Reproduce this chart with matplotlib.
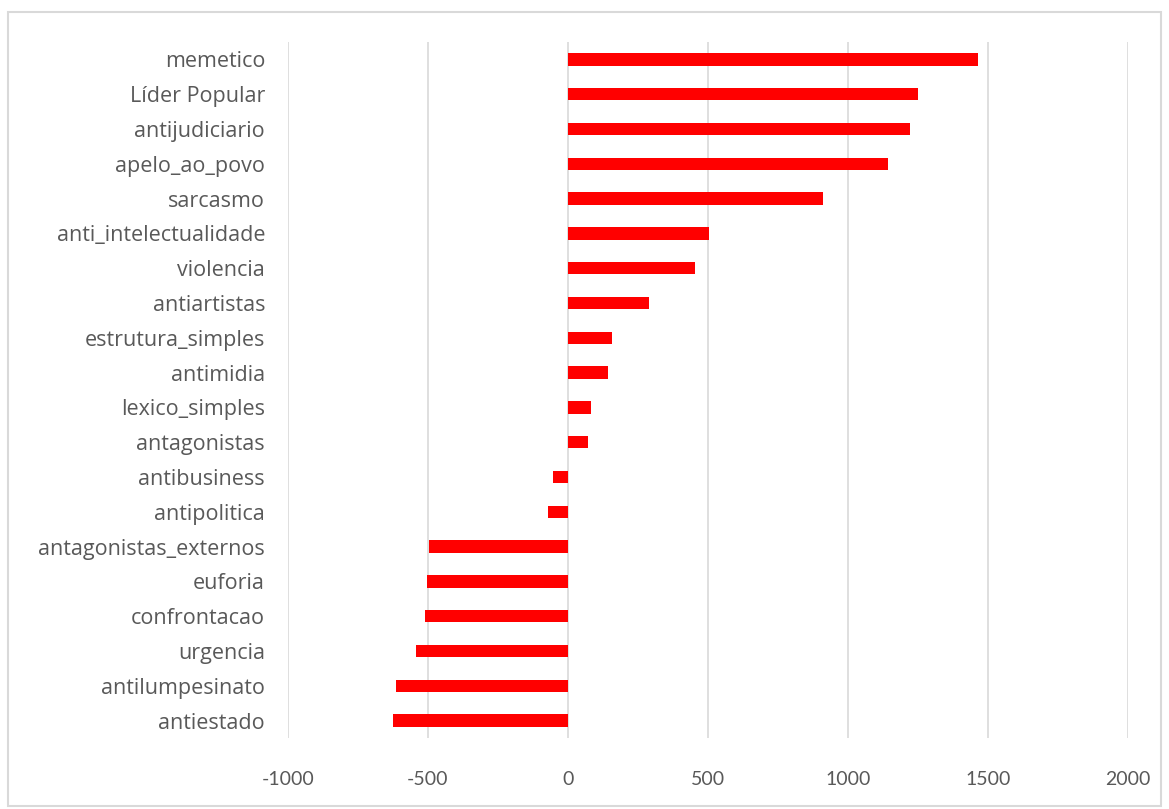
import matplotlib.pyplot as plt
from matplotlib.patches import Rectangle

categories = ['memetico', 'Líder Popular', 'antijudiciario', 'apelo_ao_povo', 'sarcasmo',
              'anti_intelectualidade', 'violencia', 'antiartistas', 'estrutura_simples',
              'antimidia', 'lexico_simples', 'antagonistas', 'antibusiness', 'antipolitica',
              'antagonistas_externos', 'euforia', 'confrontacao', 'urgencia',
              'antilumpesinato', 'antiestado']
values = [1465, 1250, 1223, 1144, 911, 504, 453, 290, 157, 143, 83, 70,
          -53, -71, -497, -505, -510, -542, -616, -624]
xticks = [-1000, -500, 0, 500, 1000, 1500, 2000]

plt.rcParams['font.family'] = ['Lato', 'DejaVu Sans']
text_color = '#595959'
grid_color = '#d9d9d9'

fig = plt.figure(figsize=(11.69, 8.09), dpi=100)
ax = fig.add_axes([288 / 1169, 1 - 738 / 809, 840 / 1169, 696 / 809])

# outer chart frame
fig.patches.append(Rectangle((8 / 1169, 1 - 806 / 809), 1153 / 1169, 794 / 809,
                             transform=fig.transFigure, fill=False,
                             edgecolor=grid_color, linewidth=1.5))

y = list(range(len(categories)))
ax.barh(y, values, height=0.36, color='#ff0000', zorder=3)

ax.set_ylim(len(categories) - 0.5, -0.5)
ax.set_xlim(-1000, 2000)
ax.set_xticks(xticks)
ax.set_xticklabels([str(t) for t in xticks], fontsize=14)
ax.set_yticks(y)
ax.set_yticklabels(categories, family=['Open Sans', 'DejaVu Sans'], fontsize=15.5)

ax.grid(axis='x', color=grid_color, linewidth=1.2, zorder=0)
for s in ax.spines.values():
    s.set_visible(False)
ax.tick_params(axis='both', length=0, colors=text_color)
ax.tick_params(axis='y', pad=16.5)
ax.tick_params(axis='x', pad=24)

fig.savefig('out.png', dpi=100)
